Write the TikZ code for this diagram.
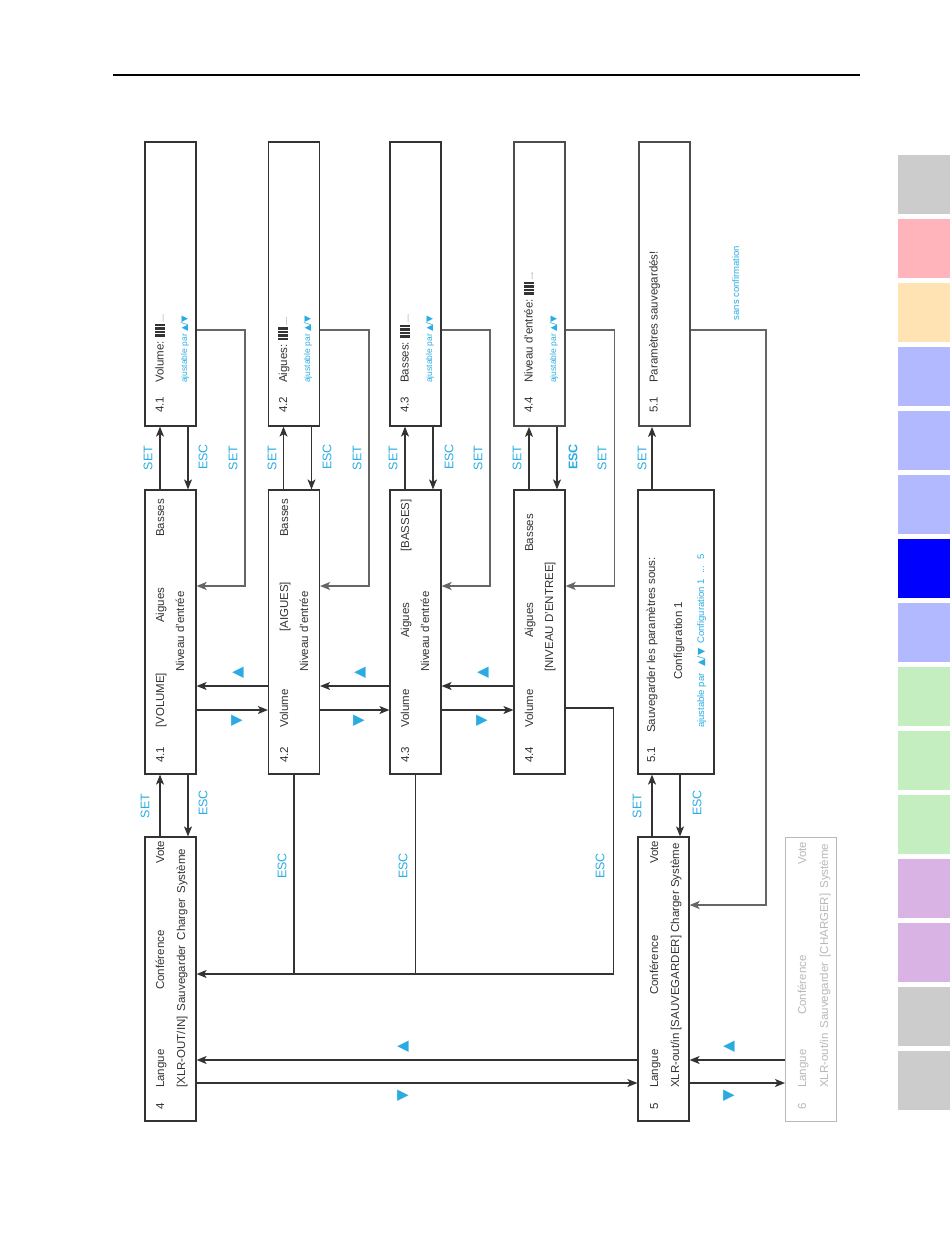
\documentclass[tikz,border=0pt]{standalone}
\usepackage{fontspec}
\setmainfont{Liberation Sans}
\newfontfamily\symfont{DejaVu Sans}
\usetikzlibrary{arrows.meta}

\definecolor{linegray}{HTML}{333333}
\definecolor{wiregray}{HTML}{666666}
\definecolor{boxgray}{HTML}{4D4D4D}
\definecolor{dimgray}{HTML}{B8B8B8}
\definecolor{keyblue}{HTML}{2AACE2}
\definecolor{tabgray}{HTML}{CCCCCC}
\definecolor{tabpink}{HTML}{FFB3BA}
\definecolor{taborange}{HTML}{FFE3B3}
\definecolor{tablav}{HTML}{B3B9FF}
\definecolor{tabblue}{HTML}{0000FF}
\definecolor{tabgreen}{HTML}{C5EEC0}
\definecolor{tabpurple}{HTML}{D8B3E4}

\newcommand{\levelbars}{\rule[-1pt]{2.5pt}{10pt}\hspace{1pt}\rule[-1pt]{2.5pt}{10pt}\hspace{1pt}\rule[-1pt]{2.5pt}{10pt}\hspace{1pt}\rule[-1pt]{2.5pt}{10pt}\,{\fontsize{7}{7}\selectfont....}}
\newcommand{\updown}{{\symfont ▲/▼}}

\begin{document}
\begin{tikzpicture}[x=1pt,y=-1pt,
    box/.style={draw=linegray, line width=1.2pt, minimum width=51pt, minimum height=284pt, inner sep=0pt},
    txt/.style={rotate=90, anchor=west, inner sep=0pt, text height=8pt, text depth=2pt, text=linegray, font=\fontsize{11.5}{13}\selectfont},
    hint/.style={text=keyblue, text height=6pt, text depth=2pt, font=\fontsize{8.5}{10}\selectfont},
    dimtxt/.style={text=dimgray},
    keylbl/.style={rotate=90, inner sep=0pt, text=keyblue, font=\fontsize{12.5}{14}\selectfont},
    tri/.style={rotate=90, inner sep=0pt, text=keyblue, font=\symfont\fontsize{15}{15}\selectfont},
    arr/.style={draw=linegray, line width=1.3pt, -{Stealth[length=10pt,width=8pt,inset=2.5pt]}},
    wire/.style={draw=linegray, line width=1.3pt},
    retwire/.style={arr, draw=wiregray, line width=1.8pt}]

  \useasboundingbox (0,0) rectangle (950,1244);
  \draw[line width=2.2pt] (113,75) -- (860,75);

  \foreach \c [count=\i from 0] in {tabgray,tabpink,taborange,tablav,tablav,tablav,tabblue,tablav,tabgreen,tabgreen,tabgreen,tabpurple,tabpurple,tabgray,tabgray}
    \fill[\c] (898,155+64*\i) rectangle ++(52,59);

  \begin{scope}[every node/.style={box}]
    \node (d41) at (170.5,284) {};
    \node (d42) at (294,284) {};
    \node (d43) at (415.5,284) {};
    \node[draw=boxgray, line width=1.8pt] (d44) at (539.5,284) {};
    \node[draw=boxgray, line width=1.8pt] (s51) at (664.5,284) {};
    \node (m41) at (170.5,632) {};
    \node (m42) at (294,632) {};
    \node (m43) at (415.5,632) {};
    \node (m44) at (539.5,632) {};
    \node[minimum width=76pt] (m51) at (676,632) {};
    \node (b4) at (170.5,979) {};
    \node (b5) at (663.5,979) {};
    \node[draw=dimgray, line width=1pt] (b6) at (811,979) {};
  \end{scope}

  \begin{scope}[every node/.style={txt}]
    \node (d41n) at (160.5,413) {4.1};
    \node (d41t) at (160.5,383) {Volume: \levelbars};
    \node[hint] (d41h) at (185,383) {ajustable par \updown};
    \node (d42n) at (284,413) {4.2};
    \node (d42t) at (284,383) {Aigues: \levelbars};
    \node[hint] (d42h) at (308,383) {ajustable par \updown};
    \node (d43n) at (405.5,413) {4.3};
    \node (d43t) at (405.5,383) {Basses: \levelbars};
    \node[hint] (d43h) at (430,383) {ajustable par \updown};
    \node (d44n) at (529.5,413) {4.4};
    \node (d44t) at (529.5,383) {Niveau d'entrée: \levelbars};
    \node[hint] (d44h) at (554,383) {ajustable par \updown};
    \node (s51n) at (654.5,413) {5.1};
    \node (s51t) at (654.5,383) {Paramètres sauvegardés!};

    \node (m41n) at (161,763) {4.1};
    \node (m41a) at (161,728) {[VOLUME]};
    \node (m41b) at (161,623) {Aigues};
    \node (m41c) at (161,537) {Basses};
    \node (m41d) at (181,672) {Niveau d'entrée};
    \node (m42n) at (285,763) {4.2};
    \node (m42a) at (285,728) {Volume};
    \node (m42b) at (285,632) {[AIGUES]};
    \node (m42c) at (285,537) {Basses};
    \node (m42d) at (305,672) {Niveau d'entrée};
    \node (m43n) at (406,763) {4.3};
    \node (m43a) at (406,728) {Volume};
    \node (m43b) at (406,638) {Aigues};
    \node (m43c) at (406,552) {[BASSES]};
    \node (m43d) at (426,672) {Niveau d'entrée};
    \node (m44n) at (530,763) {4.4};
    \node (m44a) at (530,728) {Volume};
    \node (m44b) at (530,638) {Aigues};
    \node (m44c) at (530,552) {Basses};
    \node (m44d) at (550,672) {[NIVEAU D'ENTREE]};
    \node (m51n) at (652,763) {5.1};
    \node (m51a) at (652,733) {Sauvegarder les paramètres sous:};
    \node (m51b) at (679,680) {Configuration 1};
    \node[hint, font=\fontsize{9.5}{11}\selectfont] (m51h) at (702,728) {ajustable par\hspace{7pt}\updown\hspace{5pt}Configuration 1 \ ... \ 5};

    \node (b4n) at (161,1110) {4};
    \node (b4a) at (161,1088) {Langue};
    \node (b4b) at (161,990) {Conférence};
    \node (b4c) at (161,864) {Vote};
    \node (b4d) at (182,1088) {[XLR-OUT/IN]\, Sauvegarder\, Charger\, Système};
    \node (b5n) at (655,1110) {5};
    \node (b5a) at (655,1088) {Langue};
    \node (b5b) at (655,995) {Conférence};
    \node (b5c) at (655,864) {Vote};
    \node (b5d) at (676,1088) {XLR-out/in [SAUVEGARDER] Charger Système};
    \node[dimtxt] (b6n) at (803,1110) {6};
    \node[dimtxt] (b6a) at (803,1088) {Langue};
    \node[dimtxt] (b6b) at (803,1015) {Conférence};
    \node[dimtxt] (b6c) at (803,865) {Vote};
    \node[dimtxt] (b6d) at (825,1088) {XLR-out/in\, Sauvegarder\, [CHARGER]\, Système};
  \end{scope}

  \foreach \n in {41,42,43,44} {
    \draw[arr] ([xshift=-10.5pt]m\n.north) -- ([xshift=-10.5pt]d\n.south);
    \draw[arr] ([xshift=17.5pt]d\n.south) -- ([xshift=17.5pt]m\n.north);
    \draw[retwire] ([yshift=-46pt]d\n.east) -- ++(48.5,0) |- ([yshift=46pt]m\n.east);
  }

  \foreach \a/\b in {41/42,42/43,43/44} {
    \draw[arr] ([yshift=-54pt]m\b.west) -- ([yshift=-54pt]m\a.east);
    \draw[arr] ([yshift=-78pt]m\a.east) -- ([yshift=-78pt]m\b.west);
  }

  \begin{scope}[every node/.style={keylbl}]
    \node (set41) at (148,458) {SET};
    \node (esc41) at (203,457) {ESC};
    \node (ret41) at (233,458) {SET};
    \node (set42) at (272,458) {SET};
    \node (esc42) at (327,457) {ESC};
    \node (ret42) at (357,458) {SET};
    \node (set43) at (393,458) {SET};
    \node (esc43) at (449,457) {ESC};
    \node (ret43) at (478,458) {SET};
    \node (set44) at (517,458) {SET};
    \node[font=\bfseries\fontsize{12.5}{14}\selectfont] (esc44) at (573,457) {ESC};
    \node (ret44) at (602,458) {SET};
    \node (set51) at (642,458) {SET};
    \node (set4) at (145,806) {SET};
    \node (esc4) at (203,803) {ESC};
    \node (set5) at (637,806) {SET};
    \node (esc5) at (697,803) {ESC};
    \node (bk42) at (282,866) {ESC};
    \node (bk43) at (403,866) {ESC};
    \node (bk44) at (600,866) {ESC};
    \node[hint, font=\fontsize{9.5}{11}\selectfont] (nosave) at (737,283) {sans confirmation};
  \end{scope}

  \begin{scope}[every node/.style={tri}]
    \node (up412) at (238,673) {▲};
    \node (dn412) at (237,721) {▼};
    \node (up423) at (360,673) {▲};
    \node (dn423) at (359,721) {▼};
    \node (up434) at (483,673) {▲};
    \node (dn434) at (482,721) {▼};
    \node (up45) at (403,1047) {▲};
    \node (dn45) at (403,1096) {▼};
    \node (up56) at (729,1047) {▲};
    \node (dn56) at (729,1096) {▼};
  \end{scope}

  \coordinate (escin) at ([yshift=5pt]b4.east);
  \draw[arr] ([yshift=-76pt]m44.east) -- ++(48,0) |- (escin);
  \draw[wire] (m42.south) -- (m42.south |- escin);
  \draw[wire] (m43.south) -- (m43.south |- escin);

  \draw[arr] ([xshift=-10.5pt]b4.north) -- ([xshift=-10.5pt]m41.south);
  \draw[arr] ([xshift=17.5pt]m41.south) -- ([xshift=17.5pt]b4.north);

  \draw[arr] ([yshift=-81pt]b5.west) -- ([yshift=-81pt]b4.east);
  \draw[arr] ([yshift=-104pt]b4.east) -- ([yshift=-104pt]b5.west);
  \draw[arr] ([yshift=-81pt]b6.west) -- ([yshift=-81pt]b5.east);
  \draw[arr] ([yshift=-104pt]b5.east) -- ([yshift=-104pt]b6.west);

  \coordinate (set5x) at ([xshift=-11.5pt]b5.north);
  \coordinate (esc5x) at ([xshift=16.5pt]b5.north);
  \draw[arr] (set5x) -- (set5x |- m51.south);
  \draw[arr] (esc5x |- m51.south) -- (esc5x);
  \draw[arr] (set5x |- m51.north) -- (set5x |- s51.south);
  \draw[retwire] ([yshift=-46pt]s51.east) -- ++(75,0) |- ([yshift=74pt]b5.east);

\end{tikzpicture}
\end{document}
